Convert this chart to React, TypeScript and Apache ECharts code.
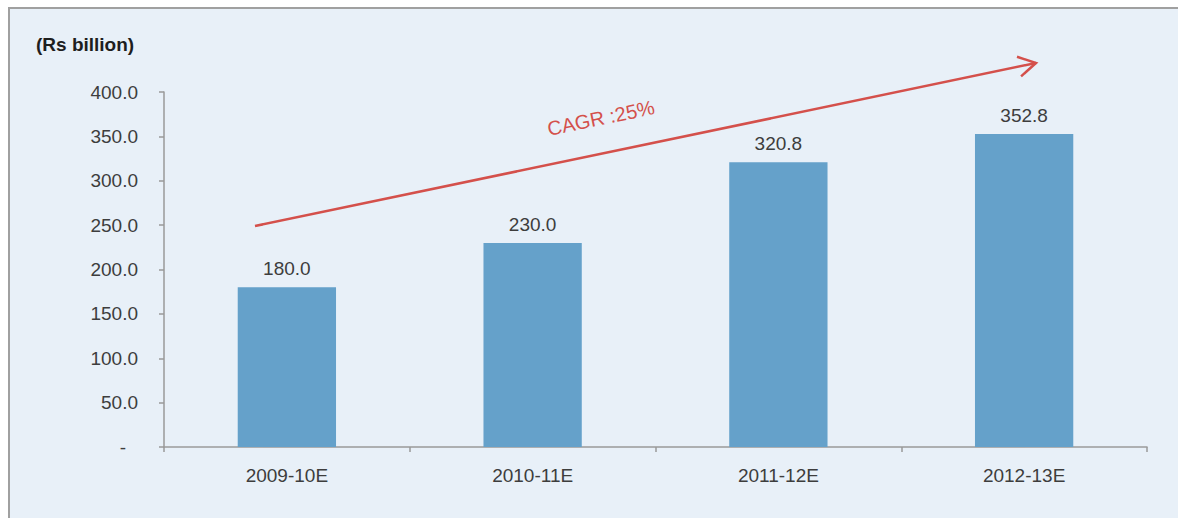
import React, { useEffect, useRef } from "react";
import * as echarts from "echarts";

const categories = ["2009-10E", "2010-11E", "2011-12E", "2012-13E"];
const values = [180.0, 230.0, 320.8, 352.8];
const unitLabel = "(Rs billion)";
const cagrLabel = "CAGR :25%";

const FONT = "'Liberation Sans', Arial, sans-serif";
const TEXT = "#3d3d3d";
const AXIS = "#9a9a9a";
const RED = "#d4504b";

export default function App() {
  const ref = useRef<HTMLDivElement>(null);
  useEffect(() => {
    if (!ref.current) return;
    const chart = echarts.init(ref.current, undefined, { renderer: "svg" });
    const start = [247, 219];
    const tip = [1028, 56];
    const dx = tip[0] - start[0];
    const dy = tip[1] - start[1];
    const len = Math.sqrt(dx * dx + dy * dy);
    const bx = -dx / len;
    const by = -dy / len;
    const a = Math.PI / 6;
    const arm = 20;
    const c = Math.cos(a);
    const s = Math.sin(a);
    const p1 = [tip[0] + arm * (bx * c - by * s), tip[1] + arm * (bx * s + by * c)];
    const p2 = [tip[0] + arm * (bx * c + by * s), tip[1] + arm * (-bx * s + by * c)];
    const ang = Math.atan2(-dy, dx);
    chart.setOption({
      animation: false,
      backgroundColor: "#e8f0f8",
      textStyle: { fontFamily: FONT },
      grid: { left: 156, right: 31, top: 85, bottom: 71 },
      xAxis: {
        type: "category",
        data: categories,
        boundaryGap: true,
        axisLine: { lineStyle: { color: AXIS, width: 1.5 } },
        axisTick: { show: true, alignWithLabel: false, length: 5, lineStyle: { color: AXIS, width: 1.5 } },
        axisLabel: { color: TEXT, fontSize: 19, fontFamily: FONT, margin: 19 },
      },
      yAxis: {
        type: "value",
        min: 0,
        max: 400,
        interval: 50,
        splitLine: { show: false },
        axisLine: { show: true, lineStyle: { color: AXIS, width: 1.5 } },
        axisTick: { show: true, length: 5, lineStyle: { color: AXIS, width: 1.5 } },
        axisLabel: {
          color: TEXT,
          fontSize: 19,
          fontFamily: FONT,
          margin: 26,
          formatter: (v: number) => (v === 0 ? "{d|-}" : v.toFixed(1)),
          rich: {
            d: { color: TEXT, fontSize: 19, fontFamily: FONT, padding: [0, 12, 0, 0] },
          },
        },
      },
      series: [
        {
          type: "bar",
          data: values,
          barWidth: "40%",
          itemStyle: { color: "#65a1ca" },
          label: {
            show: true,
            position: "top",
            distance: 9,
            color: TEXT,
            fontSize: 19,
            fontFamily: FONT,
            formatter: (p: any) => Number(p.value).toFixed(1),
          },
        },
      ],
      graphic: [
        { type: "line", shape: { x1: 0, y1: 1, x2: 1170, y2: 1 }, style: { stroke: "#a0a0a0", lineWidth: 2 } },
        { type: "line", shape: { x1: 1, y1: 0, x2: 1, y2: 511 }, style: { stroke: "#a0a0a0", lineWidth: 2 } },
        {
          type: "text",
          left: 28,
          top: 28,
          style: { text: unitLabel, fontSize: 19, fontWeight: "bold", fill: "#1e1e1e", fontFamily: FONT },
        },
        {
          type: "line",
          shape: { x1: start[0], y1: start[1], x2: tip[0], y2: tip[1] },
          style: { stroke: RED, lineWidth: 2.5 },
        },
        {
          type: "polyline",
          shape: { points: [p1, tip, p2] },
          style: { stroke: RED, lineWidth: 2.5, fill: null },
        },
        {
          type: "text",
          x: 593,
          y: 111,
          rotation: ang,
          style: {
            text: cagrLabel,
            fontSize: 20,
            fill: RED,
            fontFamily: FONT,
            align: "center",
            verticalAlign: "middle",
          },
        },
      ],
    });
    return () => chart.dispose();
  }, []);
  return (
    <div
      ref={ref}
      style={{ position: "fixed", left: 8, top: 7, width: 1170, height: 511 }}
    />
  );
}
